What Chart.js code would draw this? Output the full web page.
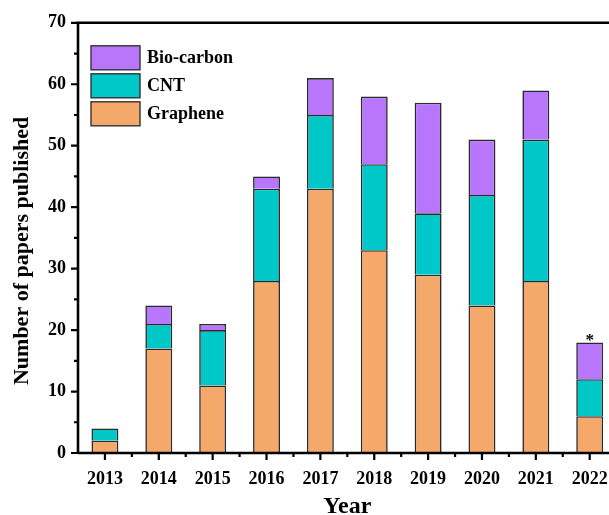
<!DOCTYPE html>
<html>
<head>
<meta charset="utf-8">
<script src="https://cdn.jsdelivr.net/npm/chart.js@4.4.0/dist/chart.umd.min.js"></script>
<style>
  html, body { margin: 0; padding: 0; overflow: hidden; background: #fff; }
  #wrap { width: 624px; height: 515px; }
</style>
</head>
<body>
<div id="wrap"><canvas id="papersChart" width="624" height="515"></canvas></div>
<script>
// data
const years = ['2013', '2014', '2015', '2016', '2017', '2018', '2019', '2020', '2021', '2022'];
const graphene = [2, 17, 11, 28, 43, 33, 29, 24, 28, 6];
const cnt = [2, 4, 9, 15, 12, 14, 10, 18, 23, 6];
const bioCarbon = [0, 3, 1, 2, 6, 11, 18, 9, 8, 6];
const yTicks = [0, 10, 20, 30, 40, 50, 60, 70];
const partialYear = '2022'; // marked with *
const yTitle = 'Number of papers published';

const serif = '"Liberation Serif", "Times New Roman", serif';

// axis frame, tick marks, y title, inside legend and the asterisk
const framePlugin = {
    id: 'frame',
    afterDraw(chart) {
        const ctx = chart.ctx;
        const area = chart.chartArea;
        const x = chart.scales.x;
        const y = chart.scales.y;
        ctx.save();
        ctx.strokeStyle = '#000';
        ctx.lineWidth = 2.6;
        ctx.beginPath();
        ctx.moveTo(area.left, area.bottom);
        ctx.lineTo(area.left, area.top);
        ctx.lineTo(area.right, area.top);
        ctx.lineTo(area.right, area.bottom);
        ctx.lineTo(area.left, area.bottom);
        ctx.stroke();

        ctx.lineWidth = 2.2;
        ctx.beginPath();
        for (let v = 0; v <= 70; v += 5) {
            const py = y.getPixelForValue(v);
            const len = v % 10 === 0 ? 7 : 4;
            ctx.moveTo(area.left, py);
            ctx.lineTo(area.left - len, py);
        }
        const half = (x.getPixelForValue(1) - x.getPixelForValue(0)) / 2;
        for (let i = 0; i < years.length; i++) {
            const px = x.getPixelForValue(i);
            ctx.moveTo(px, area.bottom);
            ctx.lineTo(px, area.bottom + 7);
            ctx.moveTo(px + half, area.bottom);
            ctx.lineTo(px + half, area.bottom + 4);
        }
        ctx.stroke();

        // y axis title, sits a bit below the plot centre in the original
        ctx.fillStyle = '#000';
        ctx.font = 'bold 22px ' + serif;
        ctx.textAlign = 'center';
        ctx.textBaseline = 'middle';
        ctx.translate(22, (area.top + area.bottom) / 2 + 13);
        ctx.rotate(-Math.PI / 2);
        ctx.fillText(yTitle, 0, 0);
        ctx.setTransform(1, 0, 0, 1, 0, 0);

        // legend (top item = last dataset)
        const sets = chart.data.datasets.slice().reverse();
        ctx.font = 'bold 18px ' + serif;
        ctx.textAlign = 'left';
        sets.forEach((ds, i) => {
            const bx = area.left + 13;
            const by = area.top + 23 + i * 28;
            ctx.fillStyle = ds.backgroundColor;
            ctx.fillRect(bx, by, 49, 24);
            ctx.lineWidth = 1.4;
            ctx.strokeStyle = '#333';
            ctx.strokeRect(bx, by, 49, 24);
            ctx.fillStyle = '#000';
            ctx.fillText(ds.label, bx + 56, by + 13);
        });

        // asterisk over the incomplete year
        const idx = years.indexOf(partialYear);
        const topMeta = chart.getDatasetMeta(chart.data.datasets.length - 1);
        const bar = topMeta.data[idx];
        ctx.font = 'bold 17px ' + serif;
        ctx.textAlign = 'center';
        ctx.textBaseline = 'alphabetic';
        ctx.fillText('*', bar.x, bar.y + 3);
        ctx.restore();
    }
};

const ctx = document.getElementById('papersChart').getContext('2d');

new Chart(ctx, {
    type: 'bar',
    data: {
        labels: years,
        datasets: [
            { label: 'Graphene', data: graphene, backgroundColor: '#F4A86A' },
            { label: 'CNT', data: cnt, backgroundColor: '#00C8C8' },
            { label: 'Bio-carbon', data: bioCarbon, backgroundColor: '#B876FC' }
        ]
    },
    options: {
        responsive: false,
        animation: false,
        layout: { padding: { top: 20, right: 6, left: 0, bottom: 0 } },
        datasets: {
            bar: {
                borderColor: '#2a2a2a',
                borderWidth: 1.6,
                barPercentage: 0.5,
                categoryPercentage: 1.0
            }
        },
        scales: {
            x: {
                stacked: true,
                grid: { display: false, drawTicks: false },
                border: { display: false },
                ticks: {
                    color: '#000',
                    padding: 16,
                    maxRotation: 0,
                    font: { family: serif, size: 18, weight: 'bold' }
                },
                title: {
                    display: true,
                    text: 'Year',
                    color: '#000',
                    padding: { top: 0, bottom: -4 },
                    font: { family: serif, size: 24, weight: 'bold', lineHeight: 1 }
                },
                afterFit(scale) { scale.height = 62; }
            },
            y: {
                stacked: true,
                min: 0,
                max: 70,
                grid: { display: false, drawTicks: false },
                border: { display: false },
                afterBuildTicks(scale) { scale.ticks = yTicks.map(v => ({ value: v })); },
                ticks: {
                    color: '#000',
                    padding: 12,
                    font: { family: serif, size: 18, weight: 'bold' }
                },
                afterFit(scale) { scale.width = 78; }
            }
        },
        plugins: {
            legend: { display: false },
            tooltip: { enabled: false }
        }
    },
    plugins: [framePlugin]
});
</script>
</body>
</html>
